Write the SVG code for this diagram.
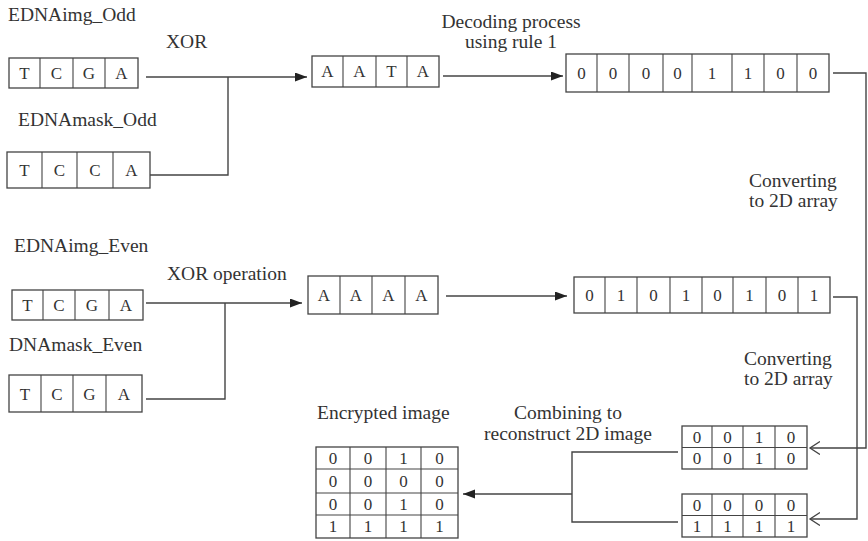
<svg xmlns="http://www.w3.org/2000/svg" width="868" height="541" viewBox="0 0 868 541">
<defs>
<style>
.box{fill:#fff;stroke:#444;stroke-width:1.3}
.sep{stroke:#444;stroke-width:1.1}
.cell{font-family:"Liberation Serif","Times New Roman",serif;font-size:17px;fill:#333;text-anchor:middle}
.lbl{font-family:"Liberation Serif","Times New Roman",serif;font-size:19.5px;fill:#333}
.con{fill:none;stroke:#444;stroke-width:1.4}
</style>
<marker id="fa" markerUnits="userSpaceOnUse" markerWidth="13" markerHeight="10" refX="12" refY="4.5" orient="auto"><path d="M0,0 L12,4.5 L0,9 z" fill="#222"/></marker>
<marker id="oa" markerUnits="userSpaceOnUse" markerWidth="12" markerHeight="14" refX="10" refY="6.5" orient="auto"><path d="M0,0 L10,6.5 L0,13" fill="none" stroke="#444" stroke-width="1.3"/></marker>
</defs>
<rect width="868" height="541" fill="#fff"/>

<g id="labels">
<text class="lbl" x="8" y="21">EDNAimg_Odd</text>
<text class="lbl" x="166" y="48">XOR</text>
<text class="lbl" x="18" y="126">EDNAmask_Odd</text>
<text class="lbl" x="511" y="28" text-anchor="middle">Decoding process</text>
<text class="lbl" x="511" y="48" text-anchor="middle">using  rule 1</text>
<text class="lbl" x="749" y="187">Converting</text>
<text class="lbl" x="749" y="207">to 2D array</text>
<text class="lbl" x="14" y="252">EDNAimg_Even</text>
<text class="lbl" x="167" y="280">XOR operation</text>
<text class="lbl" x="9" y="351">DNAmask_Even</text>
<text class="lbl" x="744" y="365">Converting</text>
<text class="lbl" x="744" y="385">to 2D array</text>
<text class="lbl" x="317" y="419">Encrypted image</text>
<text class="lbl" x="568" y="419" text-anchor="middle">Combining to</text>
<text class="lbl" x="568" y="440" text-anchor="middle">reconstruct 2D image</text>
</g>

<g id="connectors">
<path class="con" d="M146,77 H307" marker-end="url(#fa)"/>
<path class="con" d="M150,175 H228 V77"/>
<path class="con" d="M443,76 H563" marker-end="url(#fa)"/>
<path class="con" d="M833,73 H866 V448 H810" marker-end="url(#oa)"/>
<path class="con" d="M146,303 H302" marker-end="url(#fa)"/>
<path class="con" d="M146,399 H225 V303"/>
<path class="con" d="M446,296 H567" marker-end="url(#fa)"/>
<path class="con" d="M833,297 H857 V519 H810" marker-end="url(#oa)"/>
<path class="con" d="M678,452 H572 V522 H678"/>
<path class="con" d="M572,494 H463" marker-end="url(#fa)"/>
</g>

<g id="img-odd">
<rect class="box" x="9" y="58" width="129" height="30"/>
<path class="sep" d="M40,58V88M73,58V88M105,58V88"/>
<text class="cell" x="24.5" y="79">T</text><text class="cell" x="56.5" y="79">C</text><text class="cell" x="89" y="79">G</text><text class="cell" x="121.5" y="79">A</text>
</g>

<g id="mask-odd">
<rect class="box" x="7" y="152" width="143" height="36"/>
<path class="sep" d="M42,152V188M77,152V188M113,152V188"/>
<text class="cell" x="24.5" y="176">T</text><text class="cell" x="59.5" y="176">C</text><text class="cell" x="95" y="176">C</text><text class="cell" x="131.5" y="176">A</text>
</g>

<g id="xor-odd">
<rect class="box" x="312" y="56" width="127" height="31"/>
<path class="sep" d="M343,56V87M376,56V87M407,56V87"/>
<text class="cell" x="327.5" y="77">A</text><text class="cell" x="359.5" y="77">A</text><text class="cell" x="391.5" y="77">T</text><text class="cell" x="423" y="77">A</text>
</g>

<g id="bits-odd">
<rect class="box" x="566" y="54" width="263" height="38"/>
<path class="sep" d="M597,54V92M629,54V92M663,54V92M692,54V92M732,54V92M764,54V92M797,54V92"/>
<text class="cell" x="581.5" y="79">0</text><text class="cell" x="613" y="79">0</text><text class="cell" x="646" y="79">0</text><text class="cell" x="677.5" y="79">0</text><text class="cell" x="712" y="79">1</text><text class="cell" x="748" y="79">1</text><text class="cell" x="780.5" y="79">0</text><text class="cell" x="813" y="79">0</text>
</g>

<g id="img-even">
<rect class="box" x="12" y="290" width="131" height="30"/>
<path class="sep" d="M43,290V320M75,290V320M109,290V320"/>
<text class="cell" x="27.5" y="311">T</text><text class="cell" x="59" y="311">C</text><text class="cell" x="92" y="311">G</text><text class="cell" x="126" y="311">A</text>
</g>

<g id="mask-even">
<rect class="box" x="9" y="375" width="133" height="37"/>
<path class="sep" d="M41,375V412M73,375V412M106,375V412"/>
<text class="cell" x="25" y="400">T</text><text class="cell" x="57" y="400">C</text><text class="cell" x="89.5" y="400">G</text><text class="cell" x="124" y="400">A</text>
</g>

<g id="xor-even">
<rect class="box" x="308" y="276" width="130" height="38"/>
<path class="sep" d="M340,276V314M372,276V314M405,276V314"/>
<text class="cell" x="324" y="301">A</text><text class="cell" x="356" y="301">A</text><text class="cell" x="388.5" y="301">A</text><text class="cell" x="421.5" y="301">A</text>
</g>

<g id="bits-even">
<rect class="box" x="574" y="277" width="256" height="36"/>
<path class="sep" d="M605,277V313M637,277V313M670,277V313M702,277V313M733,277V313M766,277V313M798,277V313"/>
<text class="cell" x="589.5" y="301">0</text><text class="cell" x="621" y="301">1</text><text class="cell" x="653.5" y="301">0</text><text class="cell" x="686" y="301">1</text><text class="cell" x="717.5" y="301">0</text><text class="cell" x="749.5" y="301">1</text><text class="cell" x="782" y="301">0</text><text class="cell" x="814" y="301">1</text>
</g>

<g id="array-odd">
<rect class="box" x="682" y="426" width="125" height="43"/>
<path class="sep" d="M682,447.5H807M712,426V469M743,426V469M775,426V469"/>
<text class="cell" x="697" y="443">0</text><text class="cell" x="727.5" y="443">0</text><text class="cell" x="759" y="443">1</text><text class="cell" x="791" y="443">0</text>
<text class="cell" x="697" y="464">0</text><text class="cell" x="727.5" y="464">0</text><text class="cell" x="759" y="464">1</text><text class="cell" x="791" y="464">0</text>
</g>

<g id="array-even">
<rect class="box" x="682" y="494" width="125" height="43"/>
<path class="sep" d="M682,515.5H807M712,494V537M743,494V537M775,494V537"/>
<text class="cell" x="697" y="511">0</text><text class="cell" x="727.5" y="511">0</text><text class="cell" x="759" y="511">0</text><text class="cell" x="791" y="511">0</text>
<text class="cell" x="697" y="532">1</text><text class="cell" x="727.5" y="532">1</text><text class="cell" x="759" y="532">1</text><text class="cell" x="791" y="532">1</text>
</g>

<g id="encrypted">
<rect class="box" x="316" y="447" width="142" height="91"/>
<path class="sep" d="M316,469H458M316,493H458M316,515H458M350,447V538M386,447V538M421,447V538"/>
<text class="cell" x="333" y="464">0</text><text class="cell" x="368" y="464">0</text><text class="cell" x="403.5" y="464">1</text><text class="cell" x="439.5" y="464">0</text>
<text class="cell" x="333" y="487">0</text><text class="cell" x="368" y="487">0</text><text class="cell" x="403.5" y="487">0</text><text class="cell" x="439.5" y="487">0</text>
<text class="cell" x="333" y="510">0</text><text class="cell" x="368" y="510">0</text><text class="cell" x="403.5" y="510">1</text><text class="cell" x="439.5" y="510">0</text>
<text class="cell" x="333" y="532">1</text><text class="cell" x="368" y="532">1</text><text class="cell" x="403.5" y="532">1</text><text class="cell" x="439.5" y="532">1</text>
</g>
</svg>
